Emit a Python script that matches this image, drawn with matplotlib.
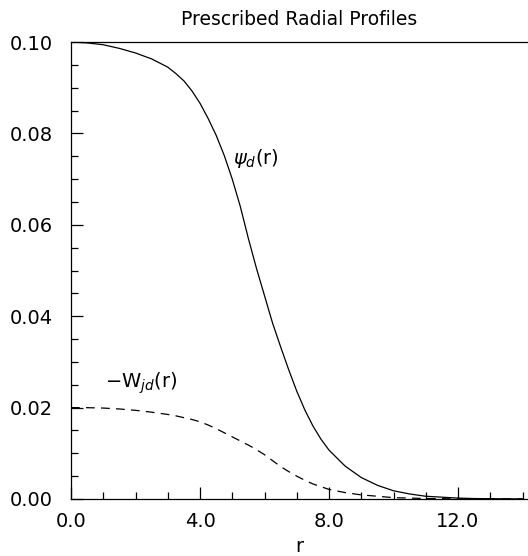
import numpy as np
import matplotlib
matplotlib.use("Agg")
from matplotlib import pyplot as plt
from matplotlib.ticker import MultipleLocator, FormatStrFormatter

# values
r = [0.0, 0.5, 1.0, 1.5, 2.0, 2.5, 3.0, 3.25, 3.5, 3.75, 4.0, 4.25, 4.5, 4.75,
     5.0, 5.25, 5.5, 5.75, 6.0, 6.25, 6.5, 6.75, 7.0, 7.25, 7.5, 7.75, 8.0,
     8.5, 9.0, 9.5, 10.0, 10.5, 11.0, 11.5, 12.0, 12.5, 13.0, 14.0]
psi_d = [0.1000, 0.0998, 0.0994, 0.0986, 0.0976, 0.0963, 0.0945, 0.0931, 0.0915,
         0.0893, 0.0866, 0.0833, 0.0796, 0.0752, 0.0700, 0.0640, 0.0570, 0.0505,
         0.0445, 0.0385, 0.0333, 0.0283, 0.0236, 0.0195, 0.0160, 0.0131, 0.0107,
         0.0072, 0.0047, 0.0030, 0.0018, 0.0011, 0.0006, 0.0004, 0.0002, 0.0001,
         0.00006, 0.00002]
w_jd = [0.0200, 0.01998, 0.0199, 0.0197, 0.0194, 0.0190, 0.0185, 0.0182, 0.0178,
        0.0174, 0.0169, 0.0162, 0.0154, 0.0145, 0.0136, 0.0127, 0.0118, 0.0108,
        0.0097, 0.0084, 0.0071, 0.0060, 0.0050, 0.0041, 0.0033, 0.0027, 0.0021,
        0.0014, 0.0009, 0.0006, 0.0003, 0.0002, 0.0001, 0.00007, 0.00004, 0.00002,
        0.00001, 0.0]

plt.rcParams['font.family'] = ['DejaVu Sans']
plt.rcParams['mathtext.fontset'] = 'dejavusans'

fig = plt.figure(figsize=(5.28, 5.56), dpi=100)
ax = fig.add_axes([71 / 528, 57 / 556, 457 / 528, 457 / 556])

ax.plot(r, psi_d, color="black", lw=0.9)
ax.plot(r, w_jd, color="black", lw=0.9, dashes=(7, 5))

ax.text(5.02, 0.0746, r"$\psi_d$(r)", fontsize=14, va="center", ha="left")
ax.text(1.05, 0.0254, r"$-$W$_{jd}$(r)", fontsize=14, va="center", ha="left")

ax.set_xlim(0, 457 / 32.25)
ax.set_ylim(0, 0.1)
ax.xaxis.set_major_locator(MultipleLocator(4))
ax.xaxis.set_minor_locator(MultipleLocator(1))
ax.yaxis.set_major_locator(MultipleLocator(0.02))
ax.yaxis.set_minor_locator(MultipleLocator(0.005))
ax.xaxis.set_major_formatter(FormatStrFormatter("%.1f"))
ax.yaxis.set_major_formatter(FormatStrFormatter("%.2f"))
ax.tick_params(which="both", direction="in", top=False, right=False,
               labelsize=14, width=0.9)
ax.tick_params(which="major", length=8.5)
ax.tick_params(which="minor", length=5)
ax.tick_params(axis="x", which="major", pad=9.5)
ax.tick_params(axis="y", which="major", pad=13)
ax.spines["right"].set_visible(False)
for s in ["left", "bottom", "top"]:
    ax.spines[s].set_linewidth(0.9)

ax.set_xlabel("r", fontsize=14, labelpad=4.5)
ax.set_title("Prescribed Radial Profiles", fontsize=13.5, pad=12)

fig.savefig("out.png", dpi=100)
